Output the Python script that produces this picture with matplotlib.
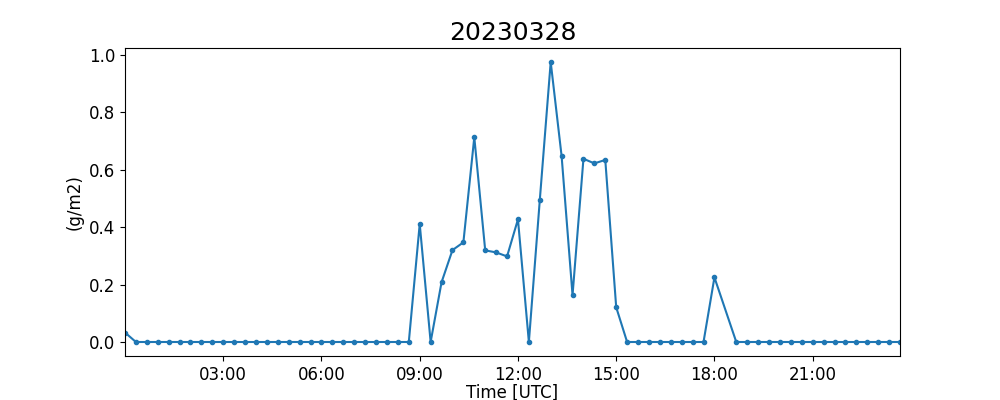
import numpy as np
import pandas as pd
import matplotlib
matplotlib.use("Agg")
import matplotlib.pyplot as plt
import matplotlib.dates as mdates

day = "2023-03-28"

times = [
    "00:00", "00:20", "00:40", "01:00", "01:20", "01:40", "02:00", "02:20", "02:40",
    "03:00", "03:20", "03:40", "04:00", "04:20", "04:40", "05:00", "05:20", "05:40",
    "06:00", "06:20", "06:40", "07:00", "07:20", "07:40", "08:00", "08:20", "08:40",
    "09:00", "09:20", "09:40", "10:00", "10:20", "10:40", "11:00", "11:20", "11:40",
    "12:00", "12:20", "12:40", "13:00", "13:20", "13:40", "14:00", "14:20", "14:40",
    "15:00", "15:20", "15:40", "16:00", "16:20", "16:40", "17:00", "17:20", "17:40",
    "18:00", "18:40", "19:00", "19:20", "19:40", "20:00", "20:20", "20:40",
    "21:00", "21:20", "21:40", "22:00", "22:20", "22:40", "23:00", "23:20", "23:40",
]

values = [
    0.033, 0.0, 0.0, 0.0, 0.0, 0.0, 0.0, 0.0, 0.0,
    0.0, 0.0, 0.0, 0.0, 0.0, 0.0, 0.0, 0.0, 0.0,
    0.0, 0.0, 0.0, 0.0, 0.0, 0.0, 0.0, 0.0, 0.0,
    0.411, 0.0, 0.208, 0.320, 0.347, 0.713, 0.319, 0.312, 0.298,
    0.427, 0.0, 0.494, 0.975, 0.647, 0.163, 0.638, 0.622, 0.634,
    0.121, 0.0, 0.0, 0.0, 0.0, 0.0, 0.0, 0.0, 0.0,
    0.225, 0.0, 0.0, 0.0, 0.0, 0.0, 0.0, 0.0,
    0.0, 0.0, 0.0, 0.0, 0.0, 0.0, 0.0, 0.0, 0.0,
]

tick_hours = ["03:00", "06:00", "09:00", "12:00", "15:00", "18:00", "21:00"]

t = pd.to_datetime([day + " " + s for s in times])
ticks = pd.to_datetime([day + " " + s for s in tick_hours])

fig, ax = plt.subplots(figsize=(10, 4), dpi=100)
ax.plot(t, values, marker='.', color='#1f77b4')
ax.set_xlim(t[0], t[-1])
ax.set_xticks(ticks)
ax.xaxis.set_major_formatter(mdates.DateFormatter('%H:%M'))
ax.tick_params(labelsize=12)
ax.set_title('20230328', fontsize=18)
ax.set_xlabel('Time [UTC]', fontsize=12, labelpad=0)
ax.set_ylabel('(g/m2)', fontsize=12)

fig.savefig('out.png', dpi=100)
